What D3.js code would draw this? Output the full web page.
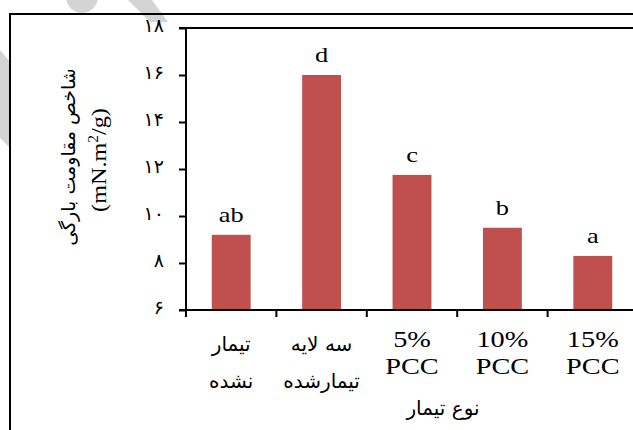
<!DOCTYPE html>
<html>
<head>
<meta charset="utf-8">
<script src="https://cdn.jsdelivr.net/npm/d3@7"></script>
<style>
  html, body { margin: 0; padding: 0; background: #fff; }
  svg { display: block; }
</style>
</head>
<body>
<svg id="chart" width="633" height="430"></svg>
<script>
// ---- data ----
const categories = ["c1", "c2", "c3", "c4", "c5"];
const labelLine1 = ["تیمار", "سه لایه", "5%", "10%", "15%"];
const labelLine2 = ["نشده", "تیمارشده", "PCC", "PCC", "PCC"];
const values = [9.2, 16.0, 11.75, 9.5, 8.3];
const letters = ["ab", "d", "c", "b", "a"];
const yTicks = [6, 8, 10, 12, 14, 16, 18];
const yTickLabels = ["۶", "۸", "۱۰", "۱۲", "۱۴", "۱۶", "۱۸"];
const yTitleFa = "شاخص مقاومت  بارگی";
const xTitle = "نوع تیمار";

const svg = d3.select("#chart");
const serif = "'Times New Roman', 'Liberation Serif', serif";
const faFont = "'DejaVu Sans', sans-serif";

// watermark (light gray)
const wm = svg.append("g").attr("fill", "#d4d4d4");
wm.append("circle").attr("cx", 82).attr("cy", -3).attr("r", 16);
wm.append("polygon").attr("points", "128,0 152,0 168,22 150,22");
wm.append("polygon").attr("points", "0,50 10,62 10,148 0,138");

// outer frame
svg.append("line").attr("x1", 9).attr("x2", 633).attr("y1", 14).attr("y2", 14)
  .attr("stroke", "#000").attr("stroke-width", 2);
svg.append("line").attr("x1", 10).attr("x2", 10).attr("y1", 13).attr("y2", 430)
  .attr("stroke", "#000").attr("stroke-width", 2);

// scales
const y = d3.scaleLinear().domain([6, 18]).range([310, 28]);
const x = d3.scaleBand().domain(categories).range([186, 638])
  .paddingInner(0.57).paddingOuter(0.285);
const step = x.step();

// bars
svg.append("g").selectAll("rect").data(values).join("rect")
  .attr("x", (d, i) => x(categories[i]))
  .attr("y", d => y(d))
  .attr("width", x.bandwidth())
  .attr("height", d => y(6) - y(d))
  .attr("fill", "#c0504d");

// top line at 18
svg.append("line").attr("x1", 179).attr("x2", 633).attr("y1", y(18)).attr("y2", y(18))
  .attr("stroke", "#000").attr("stroke-width", 2);

// y axis
const yAxis = d3.axisLeft(y).tickValues(yTicks)
  .tickFormat((d, i) => yTickLabels[i]).tickSize(7).tickSizeOuter(0);
const gy = svg.append("g").attr("transform", "translate(186,0)").call(yAxis);
gy.select(".domain").attr("stroke-width", 2).attr("d", `M0,${y(18)}V316`);
gy.selectAll(".tick line").attr("stroke-width", 2);
gy.selectAll(".tick text").attr("x", -22).attr("dy", "0.2em").attr("font-family", faFont)
  .attr("font-size", 19).attr("fill", "#000");

// x axis
const bounds = categories.map(c => x(c) - x.paddingOuter() * step);
svg.append("line").attr("x1", 179).attr("x2", 633).attr("y1", y(6)).attr("y2", y(6))
  .attr("stroke", "#000").attr("stroke-width", 2);
svg.append("g").selectAll("line").data(bounds).join("line")
  .attr("x1", d => d).attr("x2", d => d).attr("y1", y(6)).attr("y2", y(6) + 7)
  .attr("stroke", "#000").attr("stroke-width", 2);

// category labels
const isLatin = s => /^[0-9%A-Z]+$/.test(s);
categories.forEach((c, i) => {
  const cx = x(c) + x.bandwidth() / 2;
  [labelLine1[i], labelLine2[i]].forEach((t, j) => {
    const lat = isLatin(t);
    const ty = lat ? (j === 0 ? 347 : 374) : (j === 0 ? 351 : 388);
    svg.append("text")
      .attr("transform", `translate(${cx},${ty}) scale(${lat ? 1.18 : 1},1)`)
      .attr("text-anchor", "middle")
      .attr("font-family", lat ? serif : faFont)
      .attr("font-size", lat ? 24 : 20)
      .attr("fill", "#000")
      .text(t);
  });
});

// significance letters
svg.append("g").selectAll("text").data(values).join("text")
  .attr("transform", (d, i) => `translate(${x(categories[i]) + x.bandwidth() / 2},${y(d) - 13}) scale(1.2,1)`)
  .attr("text-anchor", "middle")
  .attr("font-family", serif).attr("font-size", 22).attr("fill", "#000")
  .text((d, i) => letters[i]);

// x title
svg.append("text").attr("x", 443).attr("y", 415).attr("text-anchor", "middle")
  .attr("font-family", faFont).attr("font-size", 20).attr("fill", "#000").text(xTitle);

// y title
svg.append("text").attr("transform", "translate(75,157) rotate(-90)")
  .attr("text-anchor", "middle").attr("font-family", faFont)
  .attr("font-size", 19).attr("fill", "#000").text(yTitleFa);
const yt2 = svg.append("text").attr("transform", "translate(106,160) rotate(-90) scale(1.1,1)")
  .attr("text-anchor", "middle").attr("font-family", serif)
  .attr("font-size", 22).attr("fill", "#000");
yt2.append("tspan").text("(mN.m");
yt2.append("tspan").attr("baseline-shift", "super").attr("font-size", 14).text("2");
yt2.append("tspan").text("/g)");
</script>
</body>
</html>
